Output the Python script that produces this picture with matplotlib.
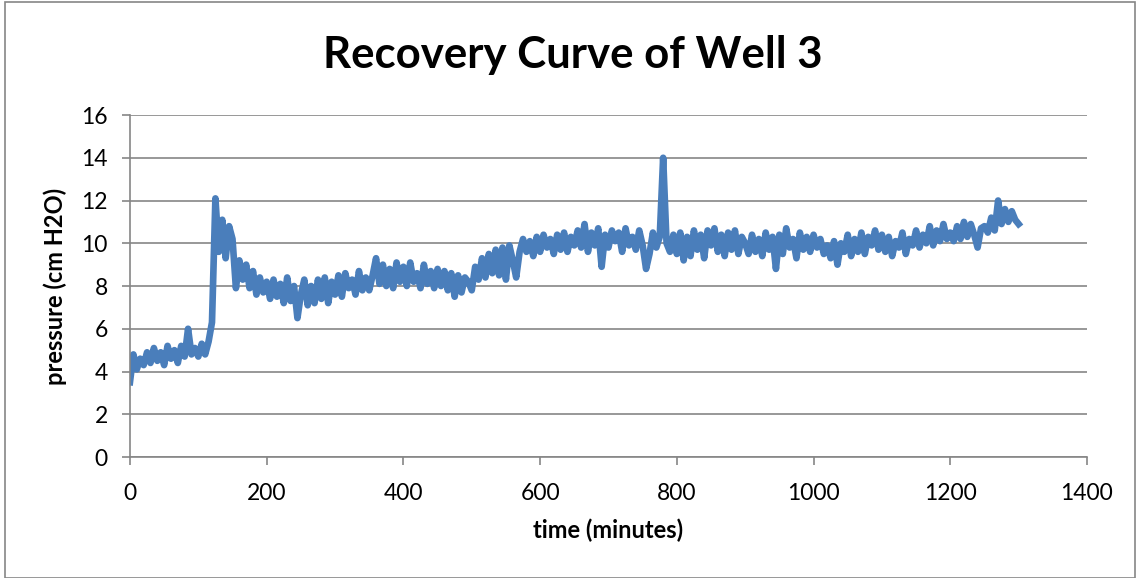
import matplotlib
matplotlib.use("Agg")
import matplotlib.pyplot as plt
from matplotlib.patches import Rectangle

plt.rcParams['font.family'] = ['Lato', 'DejaVu Sans']

# pressure readings every 5 minutes, 0 .. 1300 min
pressure = [
    3.5, 4.8, 4.1, 4.6, 4.3, 4.9, 4.4, 5.1, 4.5, 4.9, 4.3, 5.2, 4.6, 5.0, 4.4, 5.2, 4.7, 6.0, 4.8, 5.1,
    4.7, 5.3, 4.8, 5.4, 6.3, 12.1, 9.6, 11.1, 9.3, 10.8, 10.2, 7.9, 9.2, 8.3, 9.0, 7.9, 8.7, 7.6, 8.4, 7.7,
    8.2, 7.4, 8.3, 7.5, 8.1, 7.2, 8.4, 7.3, 8.0, 6.5, 7.6, 8.3, 7.1, 8.0, 7.2, 8.3, 7.4, 8.4, 7.2, 8.2,
    7.6, 8.5, 7.5, 8.6, 7.9, 8.3, 7.6, 8.7, 7.8, 8.4, 7.8, 8.5, 9.3, 8.1, 9.0, 8.0, 8.8, 7.9, 9.1, 8.2,
    8.9, 8.0, 9.1, 8.2, 8.6, 7.9, 9.0, 8.1, 8.7, 7.9, 8.8, 8.0, 8.7, 7.8, 8.6, 7.5, 8.5, 7.7, 8.4, 8.2,
    7.8, 8.9, 8.3, 9.3, 8.4, 9.5, 8.6, 9.7, 8.5, 9.8, 8.3, 9.9, 9.2, 8.4, 9.6, 10.2, 9.6, 10.1, 9.4, 10.3,
    9.6, 10.4, 9.8, 10.2, 9.5, 10.4, 9.7, 10.5, 9.6, 10.3, 9.9, 10.6, 9.8, 10.9, 9.6, 10.5, 9.9, 10.7, 8.9, 10.4,
    9.8, 10.6, 10.1, 10.5, 9.6, 10.7, 9.9, 10.3, 9.7, 10.6, 9.9, 8.8, 9.5, 10.5, 9.8, 10.3, 14.0, 10.0, 9.6, 10.4,
    9.5, 10.5, 9.2, 10.3, 9.4, 10.6, 9.7, 10.4, 9.3, 10.6, 9.9, 10.7, 9.6, 10.4, 9.4, 10.5, 9.7, 10.6, 9.5, 10.3,
    10.0, 9.5, 10.4, 9.6, 10.2, 9.4, 10.5, 9.7, 10.3, 8.8, 10.4, 9.5, 10.7, 9.8, 10.2, 9.3, 10.5, 9.7, 10.3, 9.6,
    10.4, 9.8, 10.2, 9.5, 9.9, 9.3, 10.1, 9.0, 10.0, 9.6, 10.4, 9.4, 10.2, 9.6, 10.5, 9.5, 10.3, 9.9, 10.6, 9.7,
    10.4, 9.6, 10.3, 9.4, 10.1, 9.8, 10.5, 9.5, 10.2, 9.9, 10.6, 9.8, 10.4, 10.0, 10.8, 9.9, 10.6, 10.1, 10.9, 10.2,
    10.5, 10.1, 10.8, 10.2, 11.0, 10.3, 10.9, 10.4, 9.8, 10.7, 10.8, 10.5, 11.2, 10.6, 12.0, 10.9, 11.6, 11.0, 11.5, 11.1,
    10.9,
]
time_min = [5 * i for i in range(len(pressure))]

fig = plt.figure(figsize=(11.37, 5.78), dpi=100)
ax = fig.add_axes([0.1143, 0.2093, 0.8417, 0.5917])

ax.plot(time_min, pressure, color='#4A7EBB', lw=4.8, solid_joinstyle='round')

ax.set_xlim(0, 1400)
ax.set_ylim(0, 16)
ax.set_xticks(range(0, 1401, 200))
ax.set_yticks(range(0, 17, 2))
ax.grid(axis='y', color='#868686', lw=1.2)
ax.set_axisbelow(True)
for s in ['top', 'right']:
    ax.spines[s].set_visible(False)
for s in ['left', 'bottom']:
    ax.spines[s].set_color('#868686')
    ax.spines[s].set_linewidth(1.2)
ax.tick_params(colors='#868686', labelcolor='black', labelsize=16.5, length=6, width=1.2)
ax.tick_params(axis='x', pad=13)
ax.tick_params(axis='y', pad=10)

ax.set_xlabel('time (minutes)', fontsize=17, fontweight='bold', labelpad=10)
ax.set_ylabel('pressure (cm H2O)', fontsize=17, fontweight='bold', labelpad=10)
fig.text(0.504, 0.905, 'Recovery Curve of Well 3', ha='center', va='center',
         fontsize=31.5, fontweight='bold')

fig.patches.append(Rectangle((0.004, 0.0), 0.994, 0.996, transform=fig.transFigure,
                             fill=False, edgecolor='#868686', lw=1.2))

fig.savefig('out.png', dpi=100)
